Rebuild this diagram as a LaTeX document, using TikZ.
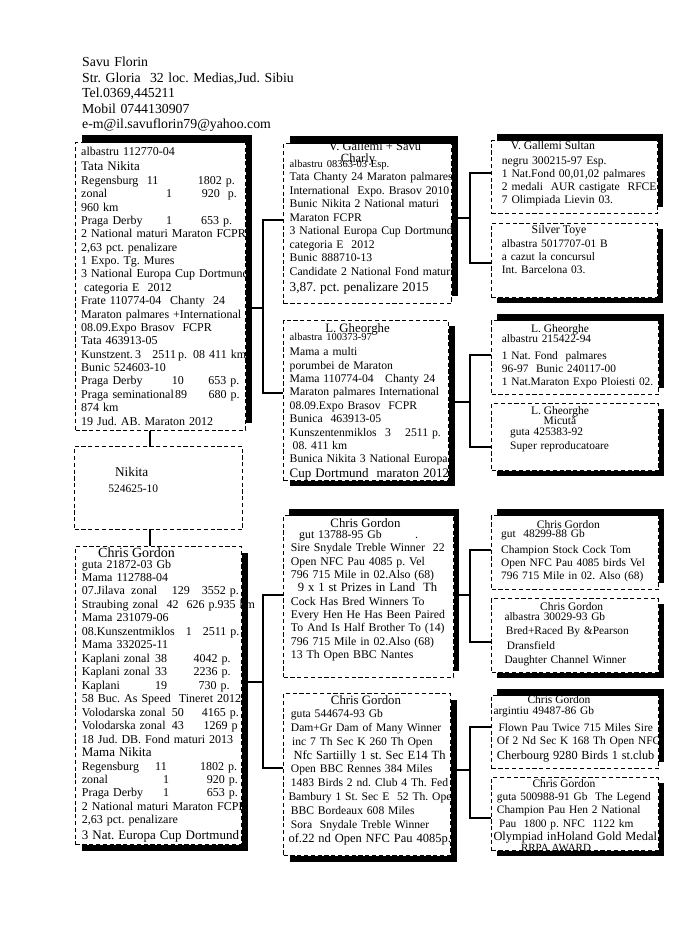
\documentclass[tikz,border=0pt]{standalone}
\usepackage{fontspec}
\setmainfont{Liberation Serif}
\frenchspacing
\newcommand\fs[2]{\fontsize{#1}{#2}\selectfont}
\newcommand\tb[2]{\makebox[#1pt][l]{#2}}
\tikzset{
  pbox/.style={draw, dash pattern=on 4.2pt off 2.6pt, line width=1.3pt, fill=white, inner sep=0pt, anchor=north west},
  conn/.style={line width=1.3pt},
  body/.style={anchor=base west, inner sep=0pt, text width=260pt, align=left},
  ttl/.style={anchor=base, inner sep=0pt},
}
\newcommand\mkbox[7]{%
  \fill ({#2+#6},{#3+(#7)}) rectangle ({#4+#6},{#5+(#7)});
  \node[pbox, minimum width={(#4-#2)*1pt}, minimum height={(#5-#3)*1pt}] (#1) at (#2,#3) {};}
\begin{document}
\begin{tikzpicture}[x=1pt,y=-1pt]
\useasboundingbox[fill=white] (0,0) rectangle (692,939);

% header
\node[body, font={\fs{13.8}{15.6}}] (hdr) at (82,66.5) {Savu Florin\\Str. Gloria\ \ 32 loc. Medias,Jud. Sibiu\\Tel.0369,445211\\Mobil 0744130907\\e-m@il.savuflorin79@yahoo.com};

% boxes
\mkbox{b1}{75}{142}{245}{430}{7}{-7}
\node[pbox, minimum width=168pt, minimum height=83pt] (nik) at (74,446) {};
\mkbox{dam}{75}{546}{241}{844}{7}{7}
\mkbox{gal}{283}{143}{451}{303}{7}{-7}
\mkbox{lgm}{283}{320}{448}{480}{7}{6}
\mkbox{cga}{283}{515}{453}{677}{6}{-6}
\mkbox{cgb}{283}{693}{450}{855}{7}{7}
\mkbox{sul}{491}{140}{657}{213}{6}{-6}
\mkbox{sil}{491}{223}{657}{297}{6}{6}
\mkbox{lgr}{491}{320}{658}{394}{6}{-6}
\mkbox{mic}{491}{403}{658}{470}{6}{6}
\mkbox{cgg}{491}{515}{658}{589}{6}{-6}
\mkbox{cgl}{491}{598}{658}{672}{6}{6}
\mkbox{cgr}{491}{695}{658}{768}{6}{-6}
\mkbox{cgt}{491}{777}{658}{850}{6}{6}

% connectors
\coordinate (cx) at (150,0);
\draw[conn] (b1.south-|cx) -- (nik.north-|cx);
\draw[conn] (nik.south-|cx) -- (dam.north-|cx);

\coordinate (ja) at (263,308);
\coordinate (jat) at (263,220);
\coordinate (jab) at (263,393);
\draw[conn] (b1.east|-ja) -- (ja);
\draw[conn] (gal.west|-jat) -- (jat) -- (jab) -- (lgm.west|-jab);

\coordinate (jb) at (263,682);
\coordinate (jbt) at (263,595);
\coordinate (jbb) at (263,768);
\draw[conn] (dam.east|-jb) -- (jb);
\draw[conn] (cga.west|-jbt) -- (jbt) -- (jbb) -- (cgb.west|-jbb);

\coordinate (jc) at (470,218);
\coordinate (jct) at (470,173);
\coordinate (jcb) at (470,263);
\draw[conn] (gal.east|-jc) -- (jc);
\draw[conn] (sul.west|-jct) -- (jct) -- (jcb) -- (sil.west|-jcb);

\coordinate (jd) at (470,402);
\coordinate (jdt) at (470,355);
\coordinate (jdb) at (470,447);
\draw[conn] (lgm.east|-jd) -- (jd);
\draw[conn] (lgr.west|-jdt) -- (jdt) -- (jdb) -- (mic.west|-jdb);

\coordinate (je) at (470,595);
\coordinate (jet) at (470,550);
\coordinate (jeb) at (470,642);
\draw[conn] (cga.east|-je) -- (je);
\draw[conn] (cgg.west|-jet) -- (jet) -- (jeb) -- (cgl.west|-jeb);

\coordinate (jf) at (470,770);
\coordinate (jft) at (470,727);
\coordinate (jfb) at (470,818);
\draw[conn] (cgb.east|-jf) -- (jf);
\draw[conn] (cgr.west|-jft) -- (jft) -- (jfb) -- (cgt.west|-jfb);

% texts: sire
\node[body, font={\fs{12}{13.37}}] (t1) at (81,155) {albastru 112770-04\\[2.6pt]
{\fs{13}{13.37}Tata Nikita}\\
\tb{65.7}{Regensburg}\tb{51}{11}1802 p.\\
\tb{85}{zonal}\tb{35.7}{1}920\ \ p.\\
960 km\\
\tb{85}{Praga Derby}\tb{35}{1}653 p.\\
2 National maturi Maraton FCPR\\
2,63 pct. penalizare\\
1 Expo. Tg. Mures\\
3 National Europa Cup Dortmund\\
\hspace*{3pt}categoria E\ \ 2012\\
\tb{89}{Frate 110774-04}\tb{43}{Chanty}24\\
Maraton palmares +International\\
08.09.Expo Brasov\ \ FCPR\\
Tata 463913-05\\
\tb{54}{Kunstzent.}\tb{17.3}{3}\tb{25.7}{2511}\tb{15}{p.}08 411 km\\
Bunic 524603-10\\
\tb{90.7}{Praga Derby}\tb{36.6}{10}653 p.\\
\tb{94}{Praga seminational}\tb{33.3}{89}680 p.\\
874 km\\
19 Jud. AB. Maraton 2012};

% Nikita
\node[ttl, font={\fs{13.3}{14}}] (nikn) at (131.7,476.5) {Nikita};
\node[ttl, font={\fs{11.5}{12}}] (niki) at (133.3,492) {524625-10};

% dam
\node[ttl, font={\fs{14}{14}}] (damt) at (136.5,557.3) {Chris Gordon};
\node[body, font={\fs{12}{13.47}}] (t2) at (81.7,568) {guta 21872-03 Gb\\
Mama 112788-04\\
\tb{49.3}{07.Jilava}\tb{40.7}{zonal}\tb{30}{129}3552 p.\\
Straubing zonal\ \ 42\ \ 626 p.935 km\\
Mama 231079-06\\
\tb{104}{08.Kunszentmiklos}\tb{17}{1}2511 p.\\
Mama 332025-11\\
\tb{73.3}{Kaplani zonal}\tb{38.3}{38}4042 p.\\
\tb{73.3}{Kaplani zonal}\tb{38.3}{33}2236 p.\\
\tb{73.3}{Kaplani}\tb{43.3}{19}730 p.\\
58 Buc. As Speed\ \ Tineret 2012\\
\tb{90}{Volodarska zonal}\tb{30}{50}4165 p.\\
\tb{90}{Volodarska zonal}\tb{31.7}{43}1269 p\\
18 Jud. DB. Fond maturi 2013\\
{\fs{13}{13.47}Mama Nikita}\\
\tb{73.3}{Regensburg}\tb{45}{11}1802 p.\\
\tb{81.3}{zonal}\tb{43.7}{1}920 p.\\
\tb{81.3}{Praga Derby}\tb{43.7}{1}653 p.\\
2 National maturi Maraton FCPR\\
2,63 pct. penalizare\\[2pt]
{\fs{13}{13.47}3 Nat. Europa Cup Dortmund}};

% Gallemi
\node[ttl, font={\fs{12.5}{13}}] (galt) at (375,150.5) {V. Gallemi + Savu};
\node[ttl, font={\fs{12.5}{13}}] (galc) at (358,162.5) {Charly};
\node[body, font={\fs{11.7}{13.57}}] (galb) at (289.5,167) {{\fs{10.5}{13.57}albastru 08363-03 Esp.}\\
Tata Chanty 24 Maraton palmares\\
International\ \ Expo. Brasov 2010\\
Bunic Nikita 2 National maturi\\
Maraton FCPR\\
3 National Europa Cup Dortmund\\
categoria E\ \ 2012\\
Bunic 888710-13\\
Candidate 2 National Fond maturi\\[2.2pt]
{\fs{13.3}{13.57}3,87. pct. penalizare 2015}};

% L. Gheorghe middle
\node[ttl, font={\fs{12.8}{13}}] (lgmt) at (357.5,332.8) {L. Gheorghe};
\node[body, font={\fs{11.7}{13.4}}] (lgmb) at (289.5,340.5) {{\fs{10.5}{13.4}albastra 100373-97}\\[1.8pt]
Mama a multi\\
porumbei de Maraton\\
\tb{95.5}{Mama 110774-04}\tb{38.3}{Chanty}24\\
Maraton palmares International\\
08.09.Expo Brasov\ \ FCPR\\
Bunica\ \ 463913-05\\
\tb{95.5}{Kunszentenmiklos}\tb{20}{3}2511 p.\\
\hspace*{3pt}08. 411 km\\
Bunica Nikita 3 National Europa\\[1.6pt]
{\fs{13}{13.4}Cup Dortmund\ \ maraton 2012}};

% Chris Gordon middle 1
\node[ttl, font={\fs{12.8}{13}}] (cgat) at (365.5,527.8) {Chris Gordon};
\node[body, font={\fs{11.8}{13.35}}] (cgab) at (290.7,538.3) {\hspace*{8.3pt}\tb{116}{gut 13788-95 Gb}.\\
Sire Snydale Treble Winner\ \ 22\\
Open NFC Pau 4085 p. Vel\\
796 715 Mile in 02.Also (68)\\
\hspace*{7pt}{\fs{12.6}{13.35}9 x 1 st Prizes in Land\ \ Th}\\
Cock Has Bred Winners To\\
Every Hen He Has Been Paired\\
To And Is Half Brother To (14)\\
796 715 Mile in 02.Also (68)\\
13 Th Open BBC Nantes};

% Chris Gordon middle 2
\node[ttl, font={\fs{12.8}{13}}] (cgbt) at (366,704.5) {Chris Gordon};
\node[body, font={\fs{11.6}{13.9}}] (cgbb) at (290.7,717.3) {guta 544674-93 Gb\\
Dam+Gr Dam of Many Winner\\
\hspace*{1.3pt}inc 7 Th Sec K 260 Th Open\\
\hspace*{2.6pt}{\fs{12.5}{13.9}Nfc Sartiilly 1 st. Sec E14 Th}\\
Open BBC Rennes 384 Miles\\
1483 Birds 2 nd. Club 4 Th. Fed\\
\hspace*{-2.4pt}Bambury 1 St. Sec E\ \ 52 Th. Open\\
BBC Bordeaux 608 Miles\\
Sora\ \ Snydale Treble Winner\\
\hspace*{-2.4pt}{\fs{12.5}{13.9}of.22 nd Open NFC Pau 4085p.}};

% right column
\node[ttl, font={\fs{11.8}{12}}] (sult) at (553,149.5) {V. Gallemi Sultan};
\node[body, font={\fs{11.6}{13.1}}] (sulb) at (501.7,164) {negru 300215-97 Esp.\\
1 Nat.Fond 00,01,02 palmares\\
2 medali\ \ AUR castigate\ \ RFCE\\
7 Olimpiada Lievin 03.};

\node[ttl, font={\fs{11.8}{12}}] (silt) at (559,233.8) {Silver Toye};
\node[body, font={\fs{11.4}{13}}] (silb) at (501.7,247.3) {albastra 5017707-01 B\\
a cazut la concursul\\
Int. Barcelona 03.};

\node[ttl, font={\fs{11.5}{12}}] (lgrt) at (560,332.5) {L. Gheorghe};
\node[body, font={\fs{11.4}{13.3}}] (lgrb) at (501.7,342.3) {albastru 215422-94\\[3.4pt]
1 Nat. Fond\ \ palmares\\
96-97\ \ Bunic 240117-00\\
1 Nat.Maraton Expo Ploiesti 02.};

\node[ttl, font={\fs{11.5}{12}}] (mict) at (560,414.5) {L. Gheorghe};
\node[ttl, font={\fs{11.5}{12}}] (micn) at (560,424) {Micută};
\node[body, font={\fs{11.4}{13.3}}] (micb) at (510,435.7) {guta 425383-92\\
Super reproducatoare};

\node[ttl, font={\fs{11.5}{12}}] (cggt) at (568.3,528) {Chris Gordon};
\node[body, font={\fs{11.4}{13.3}}] (cggb) at (501,537.3) {gut\ \ 48299-88 Gb\\[2.7pt]
Champion Stock Cock Tom\\
Open NFC Pau 4085 birds Vel\\
796 715 Mile in 02. Also (68)};

\node[ttl, font={\fs{11.5}{12}}] (cglt) at (571.7,610.5) {Chris Gordon};
\node[body, font={\fs{11.4}{14.2}}] (cglb) at (504.3,620.7) {albastra 30029-93 Gb\\
\hspace*{1.4pt}Bred+Raced By \&Pearson\\
\hspace*{2.4pt}Dransfield\\
Daughter Channel Winner};

\node[ttl, font={\fs{11.5}{12}}] (cgrt) at (559,703.8) {Chris Gordon};
\node[body, font={\fs{11.4}{13.4}}] (cgrb) at (493.3,714) {argintiu 49487-86 Gb\\[3.9pt]
\hspace*{5pt}Flown Pau Twice 715 Miles Sire\\
\hspace*{3.4pt}Of 2 Nd Sec K 168 Th Open NFC\\[1.4pt]
\hspace*{3.4pt}{\fs{12.3}{13.4}Cherbourg 9280 Birds 1 st.club}};

\node[ttl, font={\fs{11.5}{12}}] (cgtt) at (564,787.8) {Chris Gordon};
\node[body, font={\fs{11.4}{13.6}}] (cgtb) at (496.7,800) {guta 500988-91 Gb\ \ The Legend\\
Champion Pau Hen 2 National\\
\hspace*{2.3pt}Pau\ \ 1800 p. NFC\ \ 1122 km\\
\hspace*{-3.4pt}{\fs{12.4}{13.6}Olympiad inHoland Gold Medal}};
\node[ttl, font={\fs{11}{12}}] (rrpa) at (556,851) {RRPA AWARD};
\end{tikzpicture}
\end{document}
